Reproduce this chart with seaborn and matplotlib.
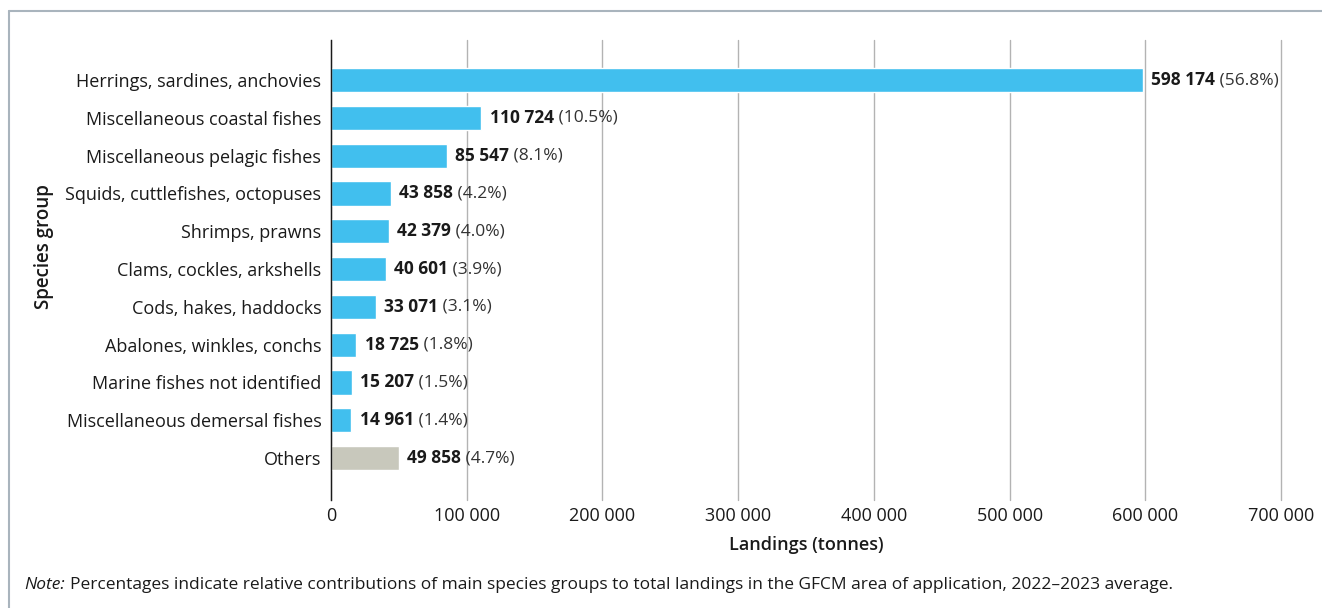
import matplotlib
matplotlib.use('Agg')
import matplotlib.pyplot as plt
import seaborn as sns
import pandas as pd
from matplotlib.lines import Line2D

species = ['Herrings, sardines, anchovies', 'Miscellaneous coastal fishes',
           'Miscellaneous pelagic fishes', 'Squids, cuttlefishes, octopuses',
           'Shrimps, prawns', 'Clams, cockles, arkshells', 'Cods, hakes, haddocks',
           'Abalones, winkles, conchs', 'Marine fishes not identified',
           'Miscellaneous demersal fishes', 'Others']
landings = [598174, 110724, 85547, 43858, 42379, 40601, 33071, 18725, 15207, 14961, 49858]
shares = [56.8, 10.5, 8.1, 4.2, 4.0, 3.9, 3.1, 1.8, 1.5, 1.4, 4.7]
xticks = [0, 100000, 200000, 300000, 400000, 500000, 600000, 700000]

blue = '#41BFEE'
grey = '#C8C8BC'

sns.set_theme(style='white')
plt.rcParams['font.family'] = ['Open Sans', 'DejaVu Sans']

df = pd.DataFrame({'species': species, 'landings': landings, 'share': shares})
palette = {s: (grey if s == 'Others' else blue) for s in species}

fig = plt.figure(figsize=(13.22, 6.08), dpi=100)
ax = fig.add_axes([331/1322, 1-500/608, 950/1322, 460/608])

sns.barplot(data=df, x='landings', y='species', hue='species', palette=palette,
            order=species, hue_order=species, legend=False, width=0.64,
            saturation=1, ax=ax)

ax.set_xlim(0, 700000)
ax.set_ylim(11.11, -1.06)
ax.set_xticks(xticks)
ax.set_xticklabels([f'{t:,}'.replace(',', ' ') for t in xticks], fontsize=13, color='#1a1a1a')
ax.tick_params(axis='y', labelsize=13, labelcolor='#1a1a1a', length=0, pad=7)
ax.tick_params(axis='x', length=0, pad=5)
ax.grid(axis='x', color='#b3b3b3', linewidth=1)
for gl in ax.get_xgridlines():
    gl.set_clip_on(False)
ax.set_axisbelow(True)
for side in ['top', 'right', 'bottom']:
    ax.spines[side].set_visible(False)
ax.spines['left'].set_color('#1a1a1a')
ax.spines['left'].set_linewidth(1)
ax.spines['left'].set_zorder(5)

ax.set_xlabel('Landings (tonnes)', fontsize=13, fontweight='semibold', color='#1a1a1a', labelpad=8)
ax.set_ylabel('Species group', fontsize=13.5, fontweight='semibold', color='#1a1a1a')
ax.yaxis.set_label_coords(-0.292, 0.55)

for i, (v, p) in enumerate(zip(landings, shares)):
    t = ax.annotate(f'{v:,}'.replace(',', ' '), xy=(v, i), xytext=(6, 0),
                    textcoords='offset points', va='center', ha='left',
                    fontsize=12.5, fontweight='bold', color='#1a1a1a')
    ax.annotate(f' ({p:.1f}%)', xy=(1, 0.5), xycoords=t, va='center', ha='left',
                fontsize=12.5, color='#333333')

fig.text(24/1322, 1-585/608, 'Note:', fontsize=12.5, style='italic', va='center', color='#1a1a1a')
fig.text(70/1322, 1-585/608,
         'Percentages indicate relative contributions of main species groups to total landings in the GFCM area of application, 2022\u20132023 average.',
         fontsize=12.5, va='center', color='#1a1a1a')

frame = '#a9b4bd'
fig.add_artist(Line2D([9/1322, 1], [1-11/608, 1-11/608], color=frame, linewidth=1.5, transform=fig.transFigure))
fig.add_artist(Line2D([9/1322, 9/1322], [0, 1-11/608], color=frame, linewidth=1.5, transform=fig.transFigure))

fig.savefig('out.png', dpi=100)
